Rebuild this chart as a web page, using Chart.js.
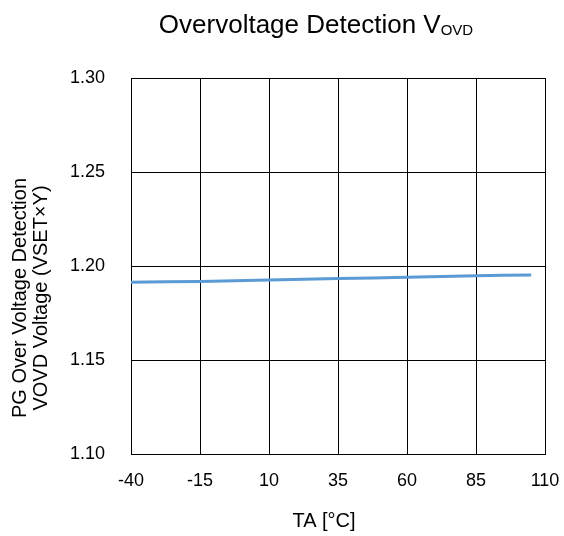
<!DOCTYPE html>
<html>
<head>
<meta charset="utf-8">
<script src="https://cdn.jsdelivr.net/npm/chart.js@4/dist/chart.umd.min.js"></script>
<style>
  html, body { margin: 0; padding: 0; background: #fff; }
  #wrap { width: 564px; height: 536px; }
</style>
</head>
<body>
<div id="wrap"><canvas id="ovdChart" width="564" height="536"></canvas></div>
<script>
const temps = [-40, -15, 10, 35, 60, 85, 105];
const ovdVoltage = [1.1914, 1.1918, 1.1925, 1.1933, 1.1940, 1.1948, 1.1952];
const xTicks = [-40, -15, 10, 35, 60, 85, 110];
const yTicks = [1.10, 1.15, 1.20, 1.25, 1.30];

const titleMain = "Overvoltage Detection V";
const titleSub = "OVD";
const yTitle = ["PG Over Voltage Detection", "VOVD Voltage (VSET×Y)"];
const xTitle = "TA [°C]";

const font = "'Liberation Sans', Arial, sans-serif";

// titles drawn by hand: subscript in the main title, off-centre axis titles
const textPlugin = {
  id: "texts",
  afterDraw(chart) {
    const ctx = chart.ctx;
    ctx.save();
    ctx.fillStyle = "#000";
    ctx.textBaseline = "alphabetic";

    ctx.font = "26px " + font;
    const w1 = ctx.measureText(titleMain).width;
    ctx.font = "15px " + font;
    const w2 = ctx.measureText(titleSub).width;
    const x0 = 316 - (w1 + w2) / 2;
    ctx.textAlign = "left";
    ctx.font = "26px " + font;
    ctx.fillText(titleMain, x0, 33);
    ctx.font = "15px " + font;
    ctx.fillText(titleSub, x0 + w1, 35);

    ctx.textAlign = "center";
    ctx.font = "20px " + font;
    ctx.fillText(xTitle, 324, 527);

    ctx.translate(0, 298);
    ctx.rotate(-Math.PI / 2);
    ctx.fillText(yTitle[0], 0, 26);
    ctx.fillText(yTitle[1], 0, 47);
    ctx.restore();
  }
};

new Chart(document.getElementById("ovdChart"), {
  type: "line",
  data: {
    datasets: [
      {
        data: temps.map((t, i) => ({ x: t, y: ovdVoltage[i] })),
        borderColor: "#5b9bd5",
        borderWidth: 3,
        pointRadius: 0,
        tension: 0.3,
        fill: false,
      },
    ],
  },
  options: {
    responsive: false,
    animation: false,
    layout: { padding: { top: 78, right: 19, left: 0, bottom: 0 } },
    plugins: { legend: { display: false }, tooltip: { enabled: false } },
    scales: {
      x: {
        type: "linear",
        min: -40,
        max: 110,
        afterFit(scale) {
          scale.height = 82;
          scale.paddingLeft = 0;
          scale.paddingRight = 0;
        },
        afterBuildTicks(scale) { scale.ticks = xTicks.map(v => ({ value: v })); },
        ticks: { color: "#000", padding: 16, maxRotation: 0, font: { family: font, size: 18 } },
        grid: { color: "#000", lineWidth: 1, drawTicks: false },
        border: { color: "#000", width: 1 },
      },
      y: {
        min: 1.10,
        max: 1.30,
        afterFit(scale) {
          scale.width = 131;
          scale.paddingTop = 0;
          scale.paddingBottom = 0;
        },
        afterBuildTicks(scale) { scale.ticks = yTicks.map(v => ({ value: v })); },
        ticks: { color: "#000", padding: 26, font: { family: font, size: 18 }, callback: v => v.toFixed(2) },
        grid: { color: "#000", lineWidth: 1, drawTicks: false },
        border: { color: "#000", width: 1 },
      },
    },
  },
  plugins: [textPlugin],
});
</script>
</body>
</html>
